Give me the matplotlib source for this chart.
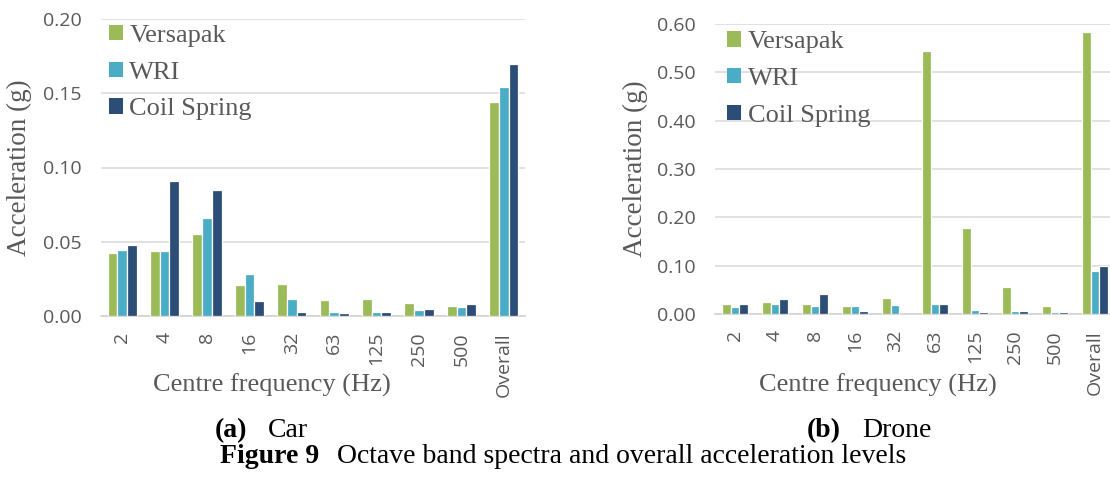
import numpy as np
import matplotlib
matplotlib.use('Agg')
import matplotlib.pyplot as plt

# octave band centre frequencies + overall
bands = ['2', '4', '8', '16', '32', '63', '125', '250', '500', 'Overall']
series = ['Versapak', 'WRI', 'Coil Spring']

# (a) car
car_versapak = [0.0423, 0.0436, 0.0552, 0.0208, 0.0216, 0.0110, 0.0117, 0.0085, 0.0067, 0.1442]
car_wri      = [0.0447, 0.0436, 0.0658, 0.0284, 0.0113, 0.0024, 0.0027, 0.0040, 0.0058, 0.1540]
car_coil     = [0.0479, 0.0906, 0.0847, 0.0102, 0.0028, 0.0021, 0.0027, 0.0045, 0.0078, 0.1697]

# (b) drone
drone_versapak = [0.020, 0.024, 0.021, 0.017, 0.033, 0.545, 0.178, 0.055, 0.017, 0.583]
drone_wri      = [0.014, 0.021, 0.017, 0.017, 0.019, 0.021, 0.008, 0.007, 0.005, 0.088]
drone_coil     = [0.020, 0.032, 0.041, 0.007, 0.001, 0.021, 0.005, 0.007, 0.005, 0.099]

colors = ['#9BBB59', '#4BACC6', '#2C4D75']
grey = '#595959'
serif = 'Liberation Serif'
sans = 'Open Sans'

fig = plt.figure(figsize=(11.1, 4.78), dpi=100)


def bar_panel(ax, data, ymax, ystep, width, legend_anchor):
    x = np.arange(len(bands))
    for i, (vals, c, name) in enumerate(zip(data, colors, series)):
        ax.bar(x + (i - 1) * width, vals, width, color=c, edgecolor='white',
               linewidth=0.9, label=name, zorder=3)
    ax.set_xlim(-0.5, len(bands) - 0.5)
    ax.set_ylim(0, ymax)
    ticks = np.arange(0, ymax + ystep / 2, ystep)
    ax.set_yticks(ticks)
    ax.set_yticklabels(['%.2f' % t for t in ticks], fontfamily=sans, fontsize=14, color=grey)
    ax.set_xticks(x)
    ax.set_xticklabels(bands, rotation=90, va='top', ha='center',
                       fontfamily=sans, fontsize=14, color=grey)
    ax.tick_params(axis='x', length=0, pad=11.5)
    ax.tick_params(axis='y', length=0, pad=14)
    ax.grid(axis='y', color='#D9D9D9', linewidth=1.1, zorder=0)
    ax.set_axisbelow(True)
    for s in ['top', 'right', 'left']:
        ax.spines[s].set_visible(False)
    ax.spines['bottom'].set_color('#D0D0D0')
    ax.spines['bottom'].set_linewidth(1.1)
    ax.set_ylabel('Acceleration (g)', fontfamily=serif, fontsize=19.5, color=grey)
    leg = ax.legend(loc='upper left', bbox_to_anchor=legend_anchor, frameon=False,
                    prop={'family': serif, 'size': 19}, handlelength=0.53,
                    handleheight=0.53, handletextpad=0.25, labelspacing=0.55,
                    borderpad=0, borderaxespad=0)
    for t in leg.get_texts():
        t.set_color(grey)
    for h in leg.legend_handles:
        h.set_linewidth(0)


ax1 = fig.add_axes([101 / 1110, 1 - 316 / 478, 424 / 1110, 297 / 478])
bar_panel(ax1, [car_versapak, car_wri, car_coil], 0.20, 0.05, 0.228, (0.018, 0.98))
ax1.yaxis.set_label_coords(-0.163, 0.5)
ax1.text(272 / 1110, 1 - 392 / 478, 'Centre frequency (Hz)', transform=fig.transFigure,
         ha='center', va='baseline', fontfamily=serif, fontsize=19, color=grey)

ax2 = fig.add_axes([715 / 1110, 1 - 314 / 478, 400 / 1110, 290 / 478])
bar_panel(ax2, [drone_versapak, drone_wri, drone_coil], 0.60, 0.10, 0.21, (0.03, 0.975))
ax2.yaxis.set_label_coords(-0.168, 0.5)
ax2.text(878 / 1110, 1 - 392 / 478, 'Centre frequency (Hz)', transform=fig.transFigure,
         ha='center', va='baseline', fontfamily=serif, fontsize=19, color=grey)

# captions
cap = 20
fig.text(215 / 1110, 1 - 437 / 478, '(a)', fontfamily=serif, fontweight='bold', fontsize=cap, va='baseline')
fig.text(268 / 1110, 1 - 437 / 478, 'Car', fontfamily=serif, fontsize=cap, va='baseline')
fig.text(807 / 1110, 1 - 437 / 478, '(b)', fontfamily=serif, fontweight='bold', fontsize=cap, va='baseline')
fig.text(862 / 1110, 1 - 437 / 478, 'Drone', fontfamily=serif, fontsize=cap, va='baseline')
fig.text(220 / 1110, 1 - 463 / 478, 'Figure 9', fontfamily=serif, fontweight='bold', fontsize=cap, va='baseline')
fig.text(337 / 1110, 1 - 463 / 478, 'Octave band spectra and overall acceleration levels',
         fontfamily=serif, fontsize=cap, va='baseline')

fig.savefig('out.png', dpi=100)
